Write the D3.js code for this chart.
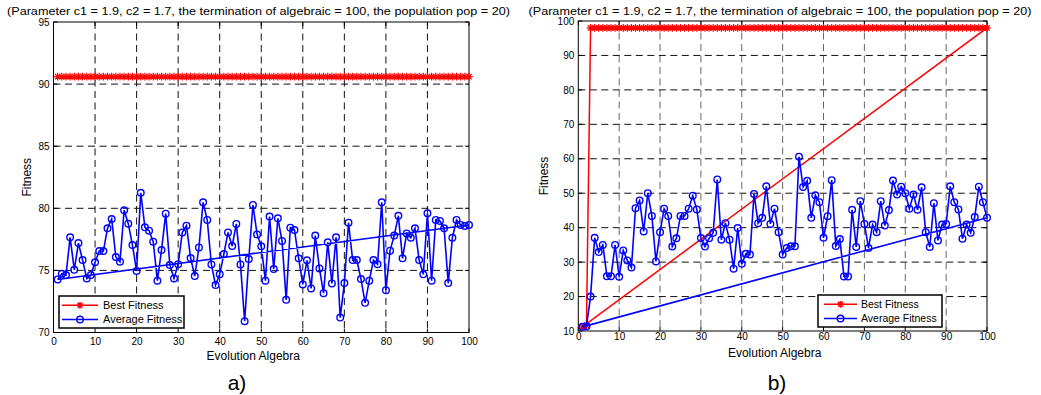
<!DOCTYPE html>
<html>
<head>
<meta charset="utf-8">
<script src="https://cdn.jsdelivr.net/npm/d3@7"></script>
<style>
  body { margin: 0; background: #fff; }
  text { font-family: "Liberation Sans", Arial, sans-serif; }
</style>
</head>
<body>
<div id="chart"></div>
<script>
// generation index on the x axis
const generations = d3.range(1, 101);
const xTicks = [0, 10, 20, 30, 40, 50, 60, 70, 80, 90, 100];
const leftYTicks = [70, 75, 80, 85, 90, 95];
const rightYTicks = [10, 20, 30, 40, 50, 60, 70, 80, 90, 100];
const titleText = '(Parameter c1 = 1.9, c2 = 1.7, the termination of algebraic = 100, the population pop = 20)';
const seriesNames = ['Best Fitness', 'Average Fitness'];
const panelLabels = ['a)', 'b)'];

// a) values
const leftBest = [
  90.6, 90.6, 90.6, 90.6, 90.6, 90.6, 90.6, 90.6, 90.6, 90.6,
  90.6, 90.6, 90.6, 90.6, 90.6, 90.6, 90.6, 90.6, 90.6, 90.6,
  90.6, 90.6, 90.6, 90.6, 90.6, 90.6, 90.6, 90.6, 90.6, 90.6,
  90.6, 90.6, 90.6, 90.6, 90.6, 90.6, 90.6, 90.6, 90.6, 90.6,
  90.6, 90.6, 90.6, 90.6, 90.6, 90.6, 90.6, 90.6, 90.6, 90.6,
  90.6, 90.6, 90.6, 90.6, 90.6, 90.6, 90.6, 90.6, 90.6, 90.6,
  90.6, 90.6, 90.6, 90.6, 90.6, 90.6, 90.6, 90.6, 90.6, 90.6,
  90.6, 90.6, 90.6, 90.6, 90.6, 90.6, 90.6, 90.6, 90.6, 90.6,
  90.6, 90.6, 90.6, 90.6, 90.6, 90.6, 90.6, 90.6, 90.6, 90.6,
  90.6, 90.6, 90.6, 90.6, 90.6, 90.6, 90.6, 90.6, 90.6, 90.6
];
const leftAverage = [
  74.27, 74.73, 74.62, 77.66, 75.05, 77.2, 75.83, 74.35, 74.62, 75.65,
  76.56, 76.56, 78.39, 79.14, 76.08, 75.7, 79.84, 78.76, 77.04, 74.95,
  81.25, 78.47, 78.2, 77.31, 74.17, 76.64, 79.57, 75.43, 74.35, 75.5,
  78.06, 78.6, 76.0, 74.54, 76.85, 80.48, 79.06, 75.48, 73.82, 74.68,
  76.32, 78.06, 76.96, 78.74, 75.48, 70.91, 75.91, 80.27, 77.9, 76.94,
  74.17, 79.33, 75.11, 79.19, 77.37, 72.63, 78.44, 78.25, 75.97, 73.87,
  75.81, 73.55, 77.8, 75.16, 73.17, 77.26, 73.95, 77.66, 71.2, 73.98,
  78.84, 75.83, 75.83, 74.3, 72.39, 74.17, 75.83, 75.5, 80.48, 73.41,
  76.59, 77.8, 79.4, 75.97, 77.98, 77.63, 78.39, 75.83, 74.68, 79.6,
  74.17, 79.06, 78.98, 78.39, 73.98, 77.63, 79.06, 78.66, 78.58, 78.66
];

// b) values
const rightBest = [
  11.2, 11.6, 98, 98, 98, 98, 98, 98, 98, 98,
  98, 98, 98, 98, 98, 98, 98, 98, 98, 98,
  98, 98, 98, 98, 98, 98, 98, 98, 98, 98,
  98, 98, 98, 98, 98, 98, 98, 98, 98, 98,
  98, 98, 98, 98, 98, 98, 98, 98, 98, 98,
  98, 98, 98, 98, 98, 98, 98, 98, 98, 98,
  98, 98, 98, 98, 98, 98, 98, 98, 98, 98,
  98, 98, 98, 98, 98, 98, 98, 98, 98, 98,
  98, 98, 98, 98, 98, 98, 98, 98, 98, 98,
  98, 98, 98, 98, 98, 98, 98, 98, 98, 98
];
const rightAverage = [
  11.2, 11.4, 20.0, 37.05, 32.9, 35.0, 25.9, 25.9, 35.0, 25.75,
  33.4, 30.5, 28.4, 45.65, 47.9, 38.9, 50.0, 43.4, 30.2, 38.7,
  45.5, 43.4, 34.5, 36.9, 43.4, 43.4, 45.5, 49.3, 45.3, 37.0,
  34.5, 36.9, 38.5, 54.0, 36.5, 41.3, 36.5, 28.1, 39.9, 29.5,
  32.4, 32.2, 49.8, 41.3, 42.85, 52.0, 41.1, 45.5, 38.7, 32.2,
  34.1, 34.6, 34.6, 60.6, 51.8, 53.6, 42.85, 49.4, 47.4, 37.05,
  43.35, 53.8, 34.65, 36.7, 25.85, 25.85, 45.2, 34.4, 47.7, 41.1,
  34.1, 40.9, 38.7, 47.7, 40.6, 45.1, 53.7, 49.6, 51.9, 50.0,
  45.5, 49.6, 45.2, 51.7, 38.7, 34.4, 47.1, 36.3, 40.9, 41.1,
  52.0, 47.4, 45.3, 36.8, 40.9, 38.5, 43.1, 51.9, 47.4, 42.9
];

const RED = '#ff0000', BLUE = '#0000ff';

const panels = [
  {
    best: leftBest, avg: leftAverage, yDomain: [70, 95], yTicks: leftYTicks, label: panelLabels[0],
    xRange: [53.5, 469], yRange: [332.5, 22], titleX: 258.5, fitnessX: 27, xLabelY: 360,
    xTickPad: 5, labelX: 237, vGrid: '#111',
    legend: { x: 59, y: 296, w: 125, h: 32, sx: 62, ex: 98, tx: 103, fs: 11 }
  },
  {
    best: rightBest, avg: rightAverage, yDomain: [10, 100], yTicks: rightYTicks, label: panelLabels[1],
    xRange: [578.3, 987], yRange: [331, 21], titleX: 780, fitnessX: 544, xLabelY: 357,
    xTickPad: 2, labelX: 777, vGrid: '#666',
    legend: { x: 818, y: 295, w: 124, h: 32, sx: 824, ex: 857, tx: 861, fs: 10.5 }
  }
];

const svg = d3.select('#chart').append('svg')
  .attr('width', 1041).attr('height', 395);

// matlab '*' marker
function asterisk(r) {
  const k = r * 0.72;
  return `M${-r},0H${r}M0,${-r}V${r}M${-k},${-k}L${k},${k}M${-k},${k}L${k},${-k}`;
}

function drawPanel(p) {
  const x = d3.scaleLinear().domain([0, 100]).range(p.xRange);
  const y = d3.scaleLinear().domain(p.yDomain).range(p.yRange);
  const [left, right] = p.xRange;
  const [bottom, top] = p.yRange;
  const g = svg.append('g');

  // dashed grid
  g.selectAll('.vgrid').data(xTicks.slice(1, -1)).join('line')
    .attr('x1', d => x(d)).attr('x2', d => x(d))
    .attr('y1', top).attr('y2', bottom)
    .attr('stroke', p.vGrid).attr('stroke-dasharray', '7,4.5');
  g.selectAll('.hgrid').data(p.yTicks.slice(1, -1)).join('line')
    .attr('x1', left).attr('x2', right)
    .attr('y1', d => y(d)).attr('y2', d => y(d))
    .attr('stroke', '#111').attr('stroke-dasharray', '7,4.5');

  // inward ticks on all sides
  xTicks.forEach(t => {
    g.append('line').attr('x1', x(t)).attr('x2', x(t)).attr('y1', bottom).attr('y2', bottom - 4).attr('stroke', '#000');
    g.append('line').attr('x1', x(t)).attr('x2', x(t)).attr('y1', top).attr('y2', top + 4).attr('stroke', '#000');
  });
  p.yTicks.forEach(t => {
    g.append('line').attr('x1', left).attr('x2', left + 4).attr('y1', y(t)).attr('y2', y(t)).attr('stroke', '#000');
    g.append('line').attr('x1', right).attr('x2', right - 4).attr('y1', y(t)).attr('y2', y(t)).attr('stroke', '#000');
  });

  g.append('rect')
    .attr('x', left).attr('y', top)
    .attr('width', right - left).attr('height', bottom - top)
    .attr('fill', 'none').attr('stroke', '#000').attr('stroke-width', 1);

  // tick labels
  const xAxis = g.append('g').attr('transform', `translate(0,${bottom})`)
    .call(d3.axisBottom(x).tickValues(xTicks).tickSize(0).tickPadding(p.xTickPad));
  const yAxis = g.append('g').attr('transform', `translate(${left},0)`)
    .call(d3.axisLeft(y).tickValues(p.yTicks).tickSize(0).tickPadding(4));
  [xAxis, yAxis].forEach(a => {
    a.select('.domain').remove();
    a.selectAll('text').attr('font-size', 10).attr('fill', '#000')
      .attr('font-family', '"Liberation Sans", Arial, sans-serif');
  });

  // series: matlab closes the polyline back to the first point
  const line = d3.line().x(d => x(d[0])).y(d => y(d[1]));
  const bestPts = generations.map((gen, i) => [gen, p.best[i]]);
  const avgPts = generations.map((gen, i) => [gen, p.avg[i]]);

  g.append('path').attr('d', line(bestPts.concat([bestPts[0]])))
    .attr('fill', 'none').attr('stroke', RED).attr('stroke-width', 1.5);
  g.selectAll('.best').data(bestPts).join('path')
    .attr('transform', d => `translate(${x(d[0])},${y(d[1])})`)
    .attr('d', asterisk(3.8))
    .attr('fill', 'none').attr('stroke', RED).attr('stroke-width', 1.2);

  g.append('path').attr('d', line(avgPts.concat([avgPts[0]])))
    .attr('fill', 'none').attr('stroke', BLUE).attr('stroke-width', 1.6);
  g.selectAll('.avg').data(avgPts).join('circle')
    .attr('cx', d => x(d[0])).attr('cy', d => y(d[1])).attr('r', 3.3)
    .attr('fill', 'none').attr('stroke', BLUE).attr('stroke-width', 1.4);

  // legend
  const L = p.legend;
  const lg = g.append('g');
  lg.append('rect').attr('x', L.x).attr('y', L.y).attr('width', L.w).attr('height', L.h)
    .attr('fill', '#fff').attr('stroke', '#000').attr('stroke-width', 1.5);
  const rows = [
    { name: seriesNames[0], color: RED, dy: 9.3 },
    { name: seriesNames[1], color: BLUE, dy: 23.5 }
  ];
  rows.forEach((r, i) => {
    const ry = L.y + r.dy;
    const mx = (L.sx + L.ex) / 2;
    lg.append('line').attr('x1', L.sx).attr('x2', L.ex).attr('y1', ry).attr('y2', ry)
      .attr('stroke', r.color).attr('stroke-width', 1.6);
    if (i === 0) {
      lg.append('path').attr('transform', `translate(${mx},${ry})`).attr('d', asterisk(3.4))
        .attr('fill', 'none').attr('stroke', r.color).attr('stroke-width', 1.4);
    } else {
      lg.append('circle').attr('cx', mx).attr('cy', ry).attr('r', 3.3)
        .attr('fill', 'none').attr('stroke', r.color).attr('stroke-width', 1.4);
    }
    lg.append('text').attr('x', L.tx).attr('y', ry + 3.8).attr('font-size', L.fs)
      .attr('fill', '#000').text(r.name);
  });

  // titles and labels
  g.append('text').attr('x', p.titleX).attr('y', 15).attr('text-anchor', 'middle')
    .attr('font-size', 11.2).attr('textLength', 503).attr('lengthAdjust', 'spacingAndGlyphs')
    .attr('fill', '#000').text(titleText);
  g.append('text').attr('x', (left + right) / 2 - 8).attr('y', p.xLabelY).attr('text-anchor', 'middle')
    .attr('font-size', 12).attr('fill', '#000').text('Evolution Algebra');
  g.append('text')
    .attr('transform', `translate(${p.fitnessX + 4},${(top + bottom) / 2}) rotate(-90)`)
    .attr('text-anchor', 'middle').attr('font-size', 12).attr('fill', '#000').text('Fitness');
  g.append('text').attr('x', p.labelX).attr('y', 390).attr('text-anchor', 'middle')
    .attr('font-family', '"Liberation Serif", "Times New Roman", serif')
    .attr('font-size', 21).attr('fill', '#000').text(p.label);
}

panels.forEach(drawPanel);
</script>
</body>
</html>
